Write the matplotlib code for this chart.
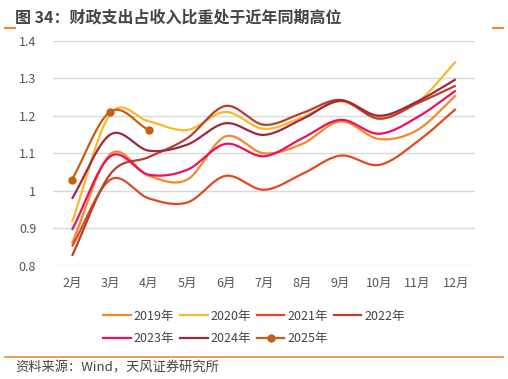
import matplotlib
matplotlib.use('Agg')
import matplotlib.pyplot as plt
import numpy as np
from matplotlib.lines import Line2D

plt.rcParams['font.family'] = ['Noto Sans CJK SC', 'DejaVu Sans']
plt.rcParams['axes.unicode_minus'] = False

months = ['2月', '3月', '4月', '5月', '6月', '7月', '8月', '9月', '10月', '11月', '12月']

y2019 = [0.86, 1.098, 1.04, 1.03, 1.145, 1.10, 1.125, 1.185, 1.138, 1.162, 1.254]
y2020 = [0.917, 1.205, 1.185, 1.162, 1.21, 1.165, 1.196, 1.238, 1.195, 1.236, 1.344]
y2021 = [0.852, 1.03, 0.98, 0.969, 1.04, 1.003, 1.045, 1.094, 1.069, 1.131, 1.218]
y2022 = [0.827, 1.045, 1.09, 1.14, 1.226, 1.176, 1.207, 1.242, 1.192, 1.233, 1.28]
y2023 = [0.896, 1.092, 1.043, 1.056, 1.125, 1.092, 1.14, 1.189, 1.152, 1.196, 1.267]
y2024 = [0.979, 1.15, 1.107, 1.123, 1.18, 1.149, 1.191, 1.24, 1.2, 1.238, 1.297]
y2025 = [1.03, 1.211, 1.162]

series = [
    ('2019年', y2019, '#F7882A'),
    ('2020年', y2020, '#FBB829'),
    ('2021年', y2021, '#E2491E'),
    ('2022年', y2022, '#B7402E'),
    ('2023年', y2023, '#EE1159'),
    ('2024年', y2024, '#A0283E'),
]
c2025 = '#C45F16'


def smooth(x, y, n=20):
    # Excel-like smoothed line (Catmull-Rom through the points)
    x = np.asarray(x, float)
    y = np.asarray(y, float)
    px = np.concatenate([[2 * x[0] - x[1]], x, [2 * x[-1] - x[-2]]])
    py = np.concatenate([[2 * y[0] - y[1]], y, [2 * y[-1] - y[-2]]])
    xs, ys = [], []
    t = np.linspace(0, 1, n)
    for i in range(1, len(px) - 2):
        p0, p1, p2, p3 = py[i - 1], py[i], py[i + 1], py[i + 2]
        q0, q1, q2, q3 = px[i - 1], px[i], px[i + 1], px[i + 2]
        b1y = p1 + (p2 - p0) / 6
        b2y = p2 - (p3 - p1) / 6
        b1x = q1 + (q2 - q0) / 6
        b2x = q2 - (q3 - q1) / 6
        xs.append((1 - t) ** 3 * q1 + 3 * (1 - t) ** 2 * t * b1x + 3 * (1 - t) * t ** 2 * b2x + t ** 3 * q2)
        ys.append((1 - t) ** 3 * p1 + 3 * (1 - t) ** 2 * t * b1y + 3 * (1 - t) * t ** 2 * b2y + t ** 3 * p2)
    return np.concatenate(xs), np.concatenate(ys)


fig = plt.figure(figsize=(5.08, 3.79), dpi=100)
ax = fig.add_axes([0.104, 0.298, 0.831, 0.595])

x = np.arange(len(months))
handles = []
for name, vals, col in series:
    sx, sy = smooth(x, vals)
    ax.plot(sx, sy, color=col, lw=1.6, solid_capstyle='butt')
    handles.append(Line2D([], [], color=col, lw=1.6, label=name))

x25 = np.arange(len(y2025))
sx, sy = smooth(x25, y2025)
ax.plot(sx, sy, color=c2025, lw=1.6)
ax.plot(x25, y2025, 'o', color=c2025, ms=5)
handles.append(Line2D([], [], color=c2025, lw=1.6, marker='o', ms=5, label='2025年'))

ax.set_xlim(-0.5, len(months) - 0.5)
ax.set_ylim(0.8, 1.4)
ax.set_yticks([0.8, 0.9, 1.0, 1.1, 1.2, 1.3, 1.4])
ax.set_yticklabels(['0.8', '0.9', '1', '1.1', '1.2', '1.3', '1.4'])
ax.set_xticks(x)
ax.set_xticklabels(months)
ax.tick_params(axis='both', length=0, labelsize=9, colors='#555555')
ax.tick_params(axis='y', pad=12)
ax.tick_params(axis='x', pad=8)
ax.grid(axis='y', color='#D9D9D9', lw=1)
ax.set_axisbelow(True)
for s in ax.spines.values():
    s.set_visible(False)

# legend is filled column by column, so reorder to read row by row
order = [0, 4, 1, 5, 2, 6, 3]
fig.legend(handles=[handles[i] for i in order], ncol=4, loc='center',
           bbox_to_anchor=(0.5, 0.136), frameon=False, fontsize=9,
           handlelength=2.2, handletextpad=0.25, columnspacing=0.45,
           labelspacing=0.75, labelcolor='#444444')

fig.text(0.03, 0.955, '图 34：财政支出占收入比重处于近年同期高位', fontsize=11.5,
         fontweight='bold', color='#444444', va='center')
fig.add_artist(Line2D([0.01, 0.03], [0.927, 0.927], color='#F7882A', lw=1.5))
fig.add_artist(Line2D([0.97, 0.99], [0.927, 0.927], color='#F7882A', lw=1.5))
fig.add_artist(Line2D([0.01, 0.99], [0.058, 0.058], color='#F7882A', lw=1.2))
fig.text(0.03, 0.028, '资料来源：Wind，天风证券研究所', fontsize=9.5, color='#444444', va='center')

fig.savefig('out.png', dpi=100)
